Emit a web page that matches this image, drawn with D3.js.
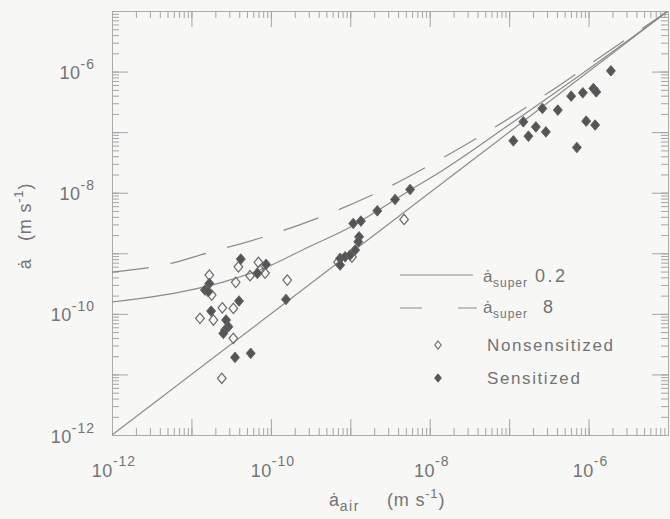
<!DOCTYPE html>
<html>
<head>
<meta charset="utf-8">
<script src="https://cdn.jsdelivr.net/npm/d3@7"></script>
<style>
  html, body { margin: 0; padding: 0; background: #f7f7f5; }
  svg { display: block; }
  text { font-family: "Liberation Sans", Arial, Helvetica, sans-serif; fill: #747474; white-space: pre; }
</style>
</head>
<body>
<svg id="chart" width="670" height="519"></svg>
<script>
// Crack growth rate in water versus rate in air (m s^-1)
const nonsensitizedAir  = [6.97e-11, 3.90e-11, 7.31e-11, 8.45e-11, 5.47e-11, 1.68e-11, 3.61e-11, 1.61e-10,
                           1.80e-11, 2.45e-11, 3.37e-11, 1.28e-11, 1.89e-11, 3.37e-11, 2.41e-11, 4.76e-9,
                           7.02e-10, 1.05e-9];
const nonsensitizedRate = [7.08e-10, 5.98e-10, 5.28e-10, 4.71e-10, 4.26e-10, 4.37e-10, 3.31e-10, 3.61e-10,
                           2.04e-10, 1.26e-10, 1.23e-10, 8.43e-11, 7.91e-11, 3.94e-11, 8.63e-12, 3.62e-9,
                           7.16e-10, 8.65e-10];

const sensitizedAir  = [4.18e-11, 8.71e-11, 6.76e-11, 1.68e-11, 1.48e-11, 1.63e-11, 3.97e-11, 1.77e-11,
                        2.73e-11, 2.92e-11, 2.65e-11, 2.52e-11, 1.55e-10, 3.54e-11, 5.58e-11,
                        5.66e-9, 3.66e-9, 2.19e-9, 1.09e-9, 1.36e-9, 1.29e-9, 1.26e-9, 7.45e-10, 8.61e-10,
                        9.93e-10, 7.45e-10, 1.15e-9,
                        1.91e-6, 1.15e-6, 1.25e-6, 8.47e-7, 6.04e-7, 4.10e-7, 2.62e-7, 1.51e-7, 2.17e-7,
                        2.90e-7, 1.75e-7, 1.13e-7, 9.33e-7, 1.21e-6, 7.13e-7];
const sensitizedRate = [8.02e-10, 6.56e-10, 4.66e-10, 3.18e-10, 2.47e-10, 2.32e-10, 1.63e-10, 1.11e-10,
                        7.91e-11, 6.12e-11, 5.41e-11, 4.76e-11, 1.73e-10, 1.91e-11, 2.23e-11,
                        1.13e-8, 7.74e-9, 5.02e-9, 3.11e-9, 3.40e-9, 1.87e-9, 1.55e-9, 8.24e-10, 8.75e-10,
                        9.33e-10, 6.38e-10, 1.13e-9,
                        1.03e-6, 5.26e-7, 4.62e-7, 4.46e-7, 3.93e-7, 2.31e-7, 2.46e-7, 1.48e-7, 1.22e-7,
                        1.01e-7, 8.59e-8, 7.18e-8, 1.52e-7, 1.31e-7, 5.58e-8];

// Superposition model curves
const super02Air  = [1e-12, 7.18e-12, 2.50e-11, 8.95e-11, 2.94e-10, 9.93e-10, 2.17e-9, 5.66e-9, 1.35e-8, 1e-7, 1e-6, 1e-5];
const super02Rate = [1.57e-10, 2.29e-10, 3.35e-10, 5.92e-10, 1.26e-9, 2.70e-9, 4.97e-9, 1.10e-8, 2.19e-8, 1.32e-7, 1.10e-6, 1e-5];
const super8Air   = [1e-12, 5.70e-12, 1.57e-11, 7.98e-11, 4.17e-10, 2.24e-9, 1.17e-8, 6.28e-8, 3.48e-7, 2.04e-6, 1e-5];
const super8Rate  = [4.90e-10, 6.89e-10, 1.01e-9, 1.85e-9, 3.95e-9, 1.02e-8, 3.20e-8, 1.16e-7, 4.93e-7, 2.43e-6, 1e-5];
const unityLine   = [1e-12, 1e-5];

const labelExponents = [-12, -10, -8, -6];
const legendLabels = ["0.2", "8", "Nonsensitized", "Sensitized"];

const svg = d3.select("#chart");
const plotLeft = 112, plotRight = 668, plotTop = 11, plotBottom = 435;

const x = d3.scaleLog().domain([1e-12, 1e-5]).range([plotLeft, plotRight]);
const y = d3.scaleLog().domain([1e-12, 1e-5]).range([plotBottom, plotTop]);

// tick values: every 1..9 x 10^n, and decades
const minorTicks = [];
for (let e = -12; e < -5; e++) for (let m = 1; m <= 9; m++) minorTicks.push(m * Math.pow(10, e));
minorTicks.push(1e-5);
const majorTicks = d3.range(-12, -4).map(e => Math.pow(10, e));

const tickColor = "#a4a4a4";
function styleAxis(g) {
  g.select(".domain").remove();
  g.selectAll(".tick line").attr("stroke", tickColor).attr("stroke-width", 1);
  g.selectAll(".tick text").remove();
}
const axisDefs = [
  [() => d3.axisBottom(x), `translate(0,${plotBottom})`],
  [() => d3.axisTop(x), `translate(0,${plotTop})`],
  [() => d3.axisLeft(y), `translate(${plotLeft},0)`],
  [() => d3.axisRight(y), `translate(${plotRight},0)`]
];
axisDefs.forEach(([mk, tr]) => {
  svg.append("g").attr("transform", tr)
    .call(mk().tickValues(minorTicks).tickSize(-7).tickFormat(""))
    .call(styleAxis);
  svg.append("g").attr("transform", tr)
    .call(mk().tickValues(majorTicks).tickSize(-16).tickFormat(""))
    .call(styleAxis);
});

// frame
svg.append("rect")
  .attr("x", plotLeft + 0.5).attr("y", plotTop + 0.5)
  .attr("width", plotRight - plotLeft).attr("height", plotBottom - plotTop)
  .attr("fill", "none").attr("stroke", "#aaaaaa").attr("stroke-width", 1);

// tick labels
const xl = svg.append("g");
labelExponents.forEach(e => {
  const t = xl.append("text")
    .attr("x", x(Math.pow(10, e)) + 2).attr("y", 477)
    .attr("text-anchor", "middle").attr("font-size", 18).attr("letter-spacing", 0.5);
  t.append("tspan").text("10");
  t.append("tspan").attr("dy", -11).attr("font-size", 14).attr("letter-spacing", 1).text(String(e));
});
const yl = svg.append("g");
labelExponents.forEach(e => {
  const t = yl.append("text")
    .attr("x", 95).attr("y", y(Math.pow(10, e)) + 7.5)
    .attr("text-anchor", "end").attr("font-size", 18).attr("letter-spacing", 0.5);
  t.append("tspan").text("10");
  t.append("tspan").attr("dy", -10).attr("font-size", 14).attr("letter-spacing", 1).text(String(e));
});

// axis titles
const xt = svg.append("text").attr("x", 329).attr("y", 506).attr("font-size", 18).attr("letter-spacing", 0.8);
xt.append("tspan").text("ȧ");
xt.append("tspan").attr("dy", 5).attr("font-size", 14).attr("letter-spacing", 1.5).text("air");
xt.append("tspan").attr("x", 387).attr("dy", -5).text("(m s");
xt.append("tspan").attr("dy", -8).attr("font-size", 13).text("-1");
xt.append("tspan").attr("dy", 8).text(")");

const yt = svg.append("text").attr("transform", "translate(31,226) rotate(-90)")
  .attr("text-anchor", "middle").attr("font-size", 18).attr("letter-spacing", 0.8);
yt.append("tspan").text("ȧ   (m s");
yt.append("tspan").attr("dy", -8).attr("font-size", 13).text("-1");
yt.append("tspan").attr("dy", 8).text(")");

// plot area clip
svg.append("clipPath").attr("id", "plotClip")
  .append("rect").attr("x", plotLeft).attr("y", plotTop)
  .attr("width", plotRight - plotLeft).attr("height", plotBottom - plotTop);
const plot = svg.append("g").attr("clip-path", "url(#plotClip)");

const lineColor = "#8a8a8a";
const line = d3.line().x(d => x(d[0])).y(d => y(d[1])).curve(d3.curveMonotoneX);

plot.append("path").datum(unityLine.map(v => [v, v]))
  .attr("d", line).attr("fill", "none").attr("stroke", lineColor).attr("stroke-width", 1.2);
plot.append("path").datum(super02Air.map((v, i) => [v, super02Rate[i]]))
  .attr("d", line).attr("fill", "none").attr("stroke", lineColor).attr("stroke-width", 1.2);
plot.append("path").datum(super8Air.map((v, i) => [v, super8Rate[i]]))
  .attr("d", line).attr("fill", "none").attr("stroke", lineColor).attr("stroke-width", 1.2)
  .attr("stroke-dasharray", "37,22");

// diamond marker
function diamond(cx, cy, w, h) {
  return `M${cx},${cy - h}L${cx + w},${cy}L${cx},${cy + h}L${cx - w},${cy}Z`;
}

plot.selectAll("path.open").data(nonsensitizedAir.map((v, i) => [v, nonsensitizedRate[i]]))
  .enter().append("path").attr("class", "open")
  .attr("d", d => diamond(x(d[0]), y(d[1]), 4.3, 5.2))
  .attr("fill", "none").attr("stroke", "#6a6a6a").attr("stroke-width", 1.2);

plot.selectAll("path.filled").data(sensitizedAir.map((v, i) => [v, sensitizedRate[i]]))
  .enter().append("path").attr("class", "filled")
  .attr("d", d => diamond(x(d[0]), y(d[1]), 4.5, 5.3))
  .attr("fill", "#555").attr("stroke", "#666").attr("stroke-width", 1);

// legend
const lg = svg.append("g");
lg.append("line").attr("x1", 400).attr("x2", 473).attr("y1", 275).attr("y2", 275)
  .attr("stroke", lineColor).attr("stroke-width", 1.2);
lg.append("line").attr("x1", 400).attr("x2", 477).attr("y1", 308).attr("y2", 308)
  .attr("stroke", lineColor).attr("stroke-width", 1.2).attr("stroke-dasharray", "22,36");

function superLabel(yy, val, valX) {
  const t = lg.append("text").attr("x", 483).attr("y", yy).attr("font-size", 17).attr("letter-spacing", 0.5);
  t.append("tspan").text("ȧ");
  t.append("tspan").attr("dy", 5).attr("font-size", 12).attr("letter-spacing", 1).text("super");
  t.append("tspan").attr("x", valX).attr("dy", -5).attr("font-size", 18).attr("letter-spacing", 2.5).text(val);
}
superLabel(282, legendLabels[0], 535);
superLabel(313, legendLabels[1], 543);

lg.append("path").attr("d", diamond(438, 345, 3.2, 4)).attr("fill", "none").attr("stroke", "#6a6a6a").attr("stroke-width", 1.1);
lg.append("path").attr("d", diamond(438, 378, 3.4, 4.2)).attr("fill", "#555").attr("stroke", "#666");
lg.append("text").attr("x", 487).attr("y", 351).attr("font-size", 17).attr("letter-spacing", 1.6).text(legendLabels[2]);
lg.append("text").attr("x", 487).attr("y", 384).attr("font-size", 17).attr("letter-spacing", 1.6).text(legendLabels[3]);
</script>
</body>
</html>
